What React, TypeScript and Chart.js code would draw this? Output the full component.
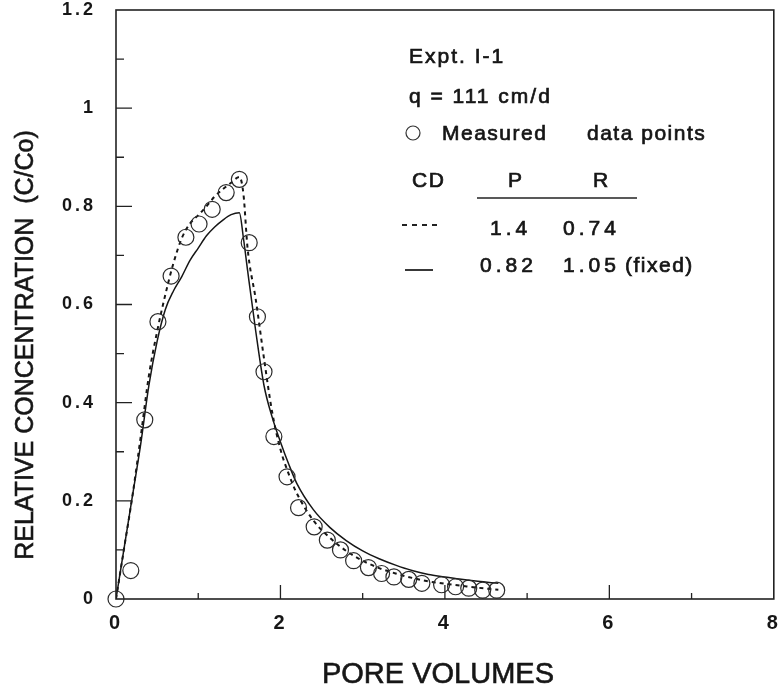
import React, { useEffect, useRef } from 'react';
import { Chart, registerables } from 'chart.js';

Chart.register(...registerables);

// Measured data points (pore volumes, C/Co)
const measuredX = [0, 0.18, 0.35, 0.51, 0.67, 0.85, 1.01, 1.17, 1.34, 1.5, 1.62, 1.72, 1.8, 1.92, 2.08, 2.22, 2.41, 2.57, 2.73, 2.89, 3.07, 3.23, 3.38, 3.56, 3.72, 3.96, 4.13, 4.29, 4.46, 4.63];
const measuredY = [0, 0.058, 0.365, 0.565, 0.658, 0.737, 0.764, 0.794, 0.828, 0.855, 0.726, 0.575, 0.463, 0.331, 0.249, 0.186, 0.147, 0.12, 0.1, 0.078, 0.064, 0.052, 0.045, 0.04, 0.032, 0.029, 0.025, 0.022, 0.018, 0.018];

// CD fit, P = 1.4, R = 0.74 (dotted)
const dottedX = [0, 0.1, 0.2, 0.3, 0.4, 0.5, 0.6, 0.7, 0.8, 0.9, 1.0, 1.1, 1.2, 1.3, 1.4, 1.5, 1.55, 1.6, 1.7, 1.8, 1.9, 2.0, 2.1, 2.2, 2.4, 2.6, 2.8, 3.0, 3.2, 3.4, 3.6, 3.8, 4.0, 4.2, 4.4, 4.65];
const dottedY = [0, 0.105, 0.21, 0.33, 0.455, 0.545, 0.62, 0.685, 0.735, 0.765, 0.782, 0.8, 0.82, 0.835, 0.848, 0.86, 0.825, 0.715, 0.61, 0.49, 0.38, 0.305, 0.255, 0.215, 0.16, 0.125, 0.098, 0.078, 0.063, 0.052, 0.043, 0.036, 0.031, 0.027, 0.023, 0.019];

// CD fit, P = 0.82, R = 1.05 fixed (solid)
const solidX = [0, 0.1, 0.2, 0.3, 0.4, 0.5, 0.6, 0.7, 0.8, 0.9, 1.0, 1.1, 1.2, 1.3, 1.4, 1.5, 1.55, 1.6, 1.7, 1.8, 1.9, 2.0, 2.1, 2.2, 2.4, 2.6, 2.8, 3.0, 3.2, 3.4, 3.6, 3.8, 4.0, 4.2, 4.4, 4.65];
const solidY = [0, 0.105, 0.21, 0.315, 0.435, 0.525, 0.59, 0.628, 0.657, 0.69, 0.715, 0.74, 0.758, 0.772, 0.783, 0.787, 0.735, 0.67, 0.545, 0.435, 0.37, 0.32, 0.275, 0.235, 0.182, 0.146, 0.119, 0.098, 0.082, 0.069, 0.058, 0.05, 0.045, 0.04, 0.036, 0.032];

const xTickLabels = ['0', '2', '4', '6', '8'];
const yTickLabels = ['0', '0.2', '0.4', '0.6', '0.8', '1', '1.2'];

const FONT = 'Liberation Sans, Arial, Helvetica, sans-serif';
const INK = '#161616';

const toPoints = (xs: number[], ys: number[]) => xs.map((x, i) => ({ x, y: ys[i] }));

const heavyText = (ctx: CanvasRenderingContext2D, text: string, x: number, y: number) => {
  ctx.fillText(text, x, y);
  ctx.strokeText(text, x, y);
};

const decorPlugin = {
  id: 'decor',
  beforeDraw(chart: any) {
    chart.ctx.letterSpacing = '3px';
  },
  afterDraw(chart: any) {
    const { ctx, chartArea: a, scales } = chart;
    const xs = scales.x;
    const ys = scales.y;
    ctx.save();
    ctx.letterSpacing = '0px';
    ctx.strokeStyle = '#222';
    ctx.lineWidth = 1.6;
    ctx.setLineDash([]);
    ctx.strokeRect(a.left, a.top, a.right - a.left, a.bottom - a.top);
    ctx.lineWidth = 1.3;
    ctx.beginPath();
    for (let i = 1; i < 8; i++) {
      const px = xs.getPixelForValue(i);
      const len = i % 2 === 0 ? 14 : 6;
      ctx.moveTo(px, a.bottom);
      ctx.lineTo(px, a.bottom - len);
    }
    for (let i = 1; i < 12; i++) {
      const py = ys.getPixelForValue(i / 10);
      const len = i % 2 === 0 ? 16 : 8;
      ctx.moveTo(a.left, py);
      ctx.lineTo(a.left + len, py);
    }
    ctx.stroke();

    // Axis titles
    ctx.fillStyle = INK;
    ctx.strokeStyle = INK;
    ctx.lineWidth = 0.6;
    ctx.font = `29px ${FONT}`;
    ctx.textAlign = 'center';
    ctx.textBaseline = 'alphabetic';
    heavyText(ctx, 'PORE VOLUMES', 438, 683);
    ctx.save();
    ctx.translate(33, 345);
    ctx.rotate(-Math.PI / 2);
    ctx.font = `25px ${FONT}`;
    heavyText(ctx, 'RELATIVE CONCENTRATION  (C/Co)', 0, 0);
    ctx.restore();

    // Legend / annotation block
    ctx.textAlign = 'left';
    ctx.font = `21px ${FONT}`;
    ctx.lineWidth = 0.7;
    ctx.letterSpacing = '2px';
    heavyText(ctx, 'Expt. I-1', 409, 63);
    heavyText(ctx, 'q = 111 cm/d', 409, 103);
    ctx.letterSpacing = '1.5px';
    heavyText(ctx, 'Measured', 442, 140);
    heavyText(ctx, 'data points', 587, 140);
    heavyText(ctx, 'CD', 412, 187);
    heavyText(ctx, 'P', 508, 187);
    heavyText(ctx, 'R', 593, 187);
    heavyText(ctx, '(fixed)', 625, 272);
    ctx.letterSpacing = '4px';
    heavyText(ctx, '1.4', 490, 235);
    heavyText(ctx, '0.74', 563, 235);
    heavyText(ctx, '0.82', 480, 272);
    heavyText(ctx, '1.05', 563, 272);
    ctx.letterSpacing = '0px';

    ctx.strokeStyle = '#333';
    ctx.lineWidth = 1.2;
    ctx.beginPath();
    ctx.arc(413, 133, 7, 0, Math.PI * 2);
    ctx.stroke();

    ctx.strokeStyle = '#222';
    ctx.lineWidth = 1.6;
    ctx.beginPath();
    ctx.moveTo(477, 198);
    ctx.lineTo(637, 198);
    ctx.stroke();

    ctx.lineWidth = 2;
    ctx.setLineDash([5, 5]);
    ctx.beginPath();
    ctx.moveTo(402, 225);
    ctx.lineTo(440, 225);
    ctx.stroke();
    ctx.setLineDash([]);
    ctx.lineWidth = 1.8;
    ctx.beginPath();
    ctx.moveTo(405, 270);
    ctx.lineTo(433, 270);
    ctx.stroke();
    ctx.restore();
  },
};

export default function App() {
  const ref = useRef<HTMLCanvasElement>(null);
  useEffect(() => {
    const canvas = ref.current;
    if (!canvas) return;
    const chart = new Chart(canvas, {
      type: 'scatter',
      data: {
        datasets: [
          {
            label: 'Measured data points',
            data: toPoints(measuredX, measuredY),
            showLine: false,
            pointRadius: 8,
            pointBorderWidth: 1.2,
            borderColor: '#2a2a2a',
            backgroundColor: 'rgba(0,0,0,0)',
            clip: false as any,
          },
          {
            label: 'P=1.4 R=0.74',
            data: toPoints(dottedX, dottedY),
            showLine: true,
            pointRadius: 0,
            borderColor: INK,
            borderWidth: 2,
            borderDash: [4, 4],
            cubicInterpolationMode: 'monotone',
          },
          {
            label: 'P=0.82 R=1.05',
            data: toPoints(solidX, solidY),
            showLine: true,
            pointRadius: 0,
            borderColor: INK,
            borderWidth: 1.5,
            cubicInterpolationMode: 'monotone',
          },
        ],
      },
      options: {
        animation: false,
        responsive: false,
        layout: { padding: { left: 0, top: 10, right: 7, bottom: 0 } },
        plugins: { legend: { display: false }, tooltip: { enabled: false } },
        scales: {
          x: {
            type: 'linear',
            min: 0,
            max: 8,
            ticks: {
              stepSize: 2,
              padding: 12,
              color: INK,
              font: { family: FONT, size: 20, weight: 'bold' },
              callback: (_v: any, i: number) => xTickLabels[i],
            },
            grid: { display: false, drawTicks: false },
            border: { display: false },
            afterFit: (s: any) => {
              s.height = 90;
              s.paddingLeft = 0;
              s.paddingRight = 0;
            },
          },
          y: {
            type: 'linear',
            min: 0,
            max: 1.2,
            ticks: {
              stepSize: 0.2,
              padding: 20,
              color: INK,
              font: { family: FONT, size: 18, weight: 'bold' },
              callback: (_v: any, i: number) => yTickLabels[i],
            },
            grid: { display: false, drawTicks: false },
            border: { display: false },
            afterFit: (s: any) => {
              s.width = 116;
              s.paddingTop = 0;
              s.paddingBottom = 0;
            },
          },
        },
      },
      plugins: [decorPlugin],
    } as any);
    return () => chart.destroy();
  }, []);
  return (
    <div style={{ position: 'absolute', left: 0, top: 0, width: 783, height: 689, background: '#fff' }}>
      <canvas ref={ref} width={783} height={689} style={{ display: 'block' }} />
    </div>
  );
}
